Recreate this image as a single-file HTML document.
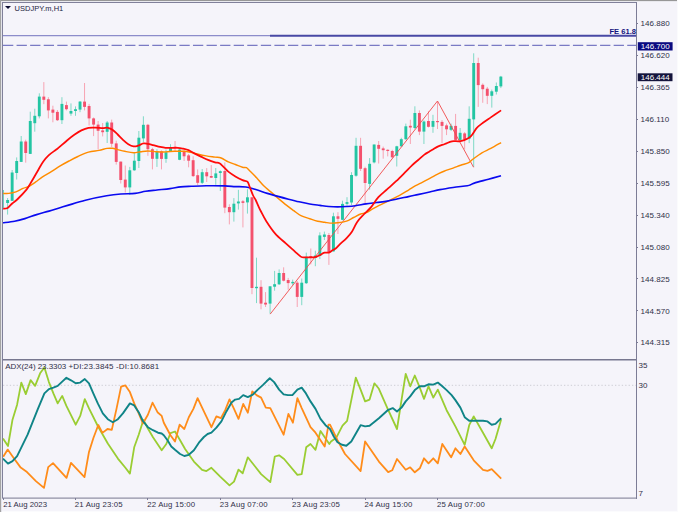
<!DOCTYPE html>
<html><head><meta charset="utf-8"><title>USDJPY.m,H1</title>
<style>
html,body{margin:0;padding:0;}
body{width:678px;height:512px;overflow:hidden;background:#f5f4fa;font-family:"Liberation Sans",sans-serif;position:relative;}
#wrap{position:absolute;left:0;top:0;width:678px;height:512px;background:#f5f4fa;overflow:hidden;}
svg{position:absolute;left:0;top:0;}
.topb{position:absolute;left:0;top:0;width:677px;height:1px;background:#979797;}
.botw{position:absolute;left:0;top:511px;width:678px;height:1px;background:#fbfbfd;}
.rw{position:absolute;left:677px;top:0;width:1px;height:512px;background:#fbfbfd;}
.topw{position:absolute;left:1px;top:1px;width:676px;height:1px;background:#e9e9ee;}
.topd{position:absolute;left:2px;top:2px;width:635px;height:1px;background:#80809a;}
.lb{position:absolute;left:0;top:0;width:1px;height:512px;background:#a3a3a3;}
.lw{position:absolute;left:1px;top:1px;width:1px;height:511px;background:#e4e4ea;}
.ld{position:absolute;left:2px;top:2px;width:1px;height:496px;background:#80809a;}
.axv{position:absolute;left:636px;top:2px;width:1px;height:496.5px;background:#7c7c96;}
.axh{position:absolute;left:2px;top:497px;width:635px;height:1px;background:#7c7c96;}
.sep{position:absolute;left:2px;top:359px;width:635px;height:1.4px;background:#7f7f97;}
.title{position:absolute;left:14.6px;top:3.9px;font-size:7.5px;color:#23233f;white-space:nowrap;letter-spacing:0px;}
.tri{position:absolute;left:5px;top:6px;width:0;height:0;border-left:3px solid transparent;border-right:3px solid transparent;border-top:3.2px solid #0b0b30;}
.pl{position:absolute;left:640.4px;letter-spacing:0.08px;font-size:8px;line-height:10px;height:10px;color:#303048;white-space:nowrap;}
.tk{position:absolute;left:637px;width:1px;height:1px;background:#7c7c96;}
.dt{position:absolute;top:499.8px;font-size:7.8px;line-height:10px;color:#303048;white-space:nowrap;}
.dtk{position:absolute;top:498px;width:1px;height:2px;background:#7c7c96;}
.adx{position:absolute;left:5.2px;top:362.4px;letter-spacing:0.05px;font-size:8px;line-height:10px;color:#303048;white-space:nowrap;}
.fe{position:absolute;left:609.4px;top:26.8px;font-size:7.6px;line-height:10px;font-weight:bold;color:#12127c;white-space:nowrap;}
.box{position:absolute;left:638px;font-size:8px;line-height:8.4px;height:8.4px;width:34.6px;color:#fff;white-space:nowrap;text-indent:2.8px;}
.il{position:absolute;left:638.5px;font-size:8px;line-height:10px;color:#303048;}
</style></head><body><div id="wrap">
<svg width="678" height="512" viewBox="0 0 678 512">
<line x1="3" y1="35.7" x2="270" y2="35.7" stroke="#8c8cca" stroke-width="1.2"/>
<line x1="270" y1="35.7" x2="636" y2="35.7" stroke="#4848a4" stroke-width="2"/>
<line x1="3" y1="45.4" x2="636" y2="45.4" stroke="#7a7ac4" stroke-width="1.1" stroke-dasharray="10.3 3.27"/>
<line x1="3" y1="385.3" x2="636" y2="385.3" stroke="#cdcdd4" stroke-width="1" stroke-dasharray="1.3 2.1"/>
<line x1="3.10" y1="190.0" x2="3.10" y2="208.0" stroke="#7fd9c6" stroke-width="1"/>
<rect x="3" y="190.0" width="1" height="18.0" fill="#6fd6c0"/>
<line x1="7.62" y1="198.0" x2="7.62" y2="214.6" stroke="#7fd9c6" stroke-width="1"/>
<rect x="6.17" y="200.0" width="2.9" height="3.0" fill="#23c5a3"/>
<line x1="12.15" y1="170.0" x2="12.15" y2="201.0" stroke="#7fd9c6" stroke-width="1"/>
<rect x="10.70" y="172.5" width="2.9" height="28.3" fill="#23c5a3"/>
<line x1="16.68" y1="157.4" x2="16.68" y2="179.5" stroke="#7fd9c6" stroke-width="1"/>
<rect x="15.23" y="161.0" width="2.9" height="12.0" fill="#23c5a3"/>
<line x1="21.20" y1="136.0" x2="21.20" y2="162.0" stroke="#7fd9c6" stroke-width="1"/>
<rect x="19.75" y="141.5" width="2.9" height="20.4" fill="#23c5a3"/>
<line x1="25.73" y1="139.7" x2="25.73" y2="162.7" stroke="#f7a3b2" stroke-width="1"/>
<rect x="24.28" y="141.5" width="2.9" height="11.5" fill="#f4516d"/>
<line x1="30.25" y1="111.7" x2="30.25" y2="154.0" stroke="#7fd9c6" stroke-width="1"/>
<rect x="28.80" y="121.0" width="2.9" height="32.9" fill="#23c5a3"/>
<line x1="34.78" y1="108.7" x2="34.78" y2="131.7" stroke="#7fd9c6" stroke-width="1"/>
<rect x="33.33" y="115.8" width="2.9" height="7.4" fill="#23c5a3"/>
<line x1="39.30" y1="93.3" x2="39.30" y2="118.4" stroke="#7fd9c6" stroke-width="1"/>
<rect x="37.85" y="96.6" width="2.9" height="19.7" fill="#23c5a3"/>
<line x1="43.83" y1="82.1" x2="43.83" y2="104.2" stroke="#f7a3b2" stroke-width="1"/>
<rect x="42.38" y="96.6" width="2.9" height="3.2" fill="#f4516d"/>
<line x1="48.35" y1="97.2" x2="48.35" y2="118.4" stroke="#f7a3b2" stroke-width="1"/>
<rect x="46.90" y="99.3" width="2.9" height="11.1" fill="#f4516d"/>
<line x1="52.88" y1="105.7" x2="52.88" y2="122.3" stroke="#f7a3b2" stroke-width="1"/>
<rect x="51.43" y="109.6" width="2.9" height="3.1" fill="#f4516d"/>
<line x1="57.40" y1="110.0" x2="57.40" y2="121.0" stroke="#f7a3b2" stroke-width="1"/>
<rect x="55.95" y="111.9" width="2.9" height="8.3" fill="#f4516d"/>
<line x1="61.93" y1="97.2" x2="61.93" y2="124.0" stroke="#7fd9c6" stroke-width="1"/>
<rect x="60.48" y="103.9" width="2.9" height="16.3" fill="#23c5a3"/>
<line x1="66.45" y1="101.6" x2="66.45" y2="110.4" stroke="#f7a3b2" stroke-width="1"/>
<rect x="65.00" y="105.1" width="2.9" height="4.1" fill="#f4516d"/>
<line x1="70.97" y1="103.4" x2="70.97" y2="115.8" stroke="#7fd9c6" stroke-width="1"/>
<rect x="69.52" y="111.0" width="2.9" height="2.6" fill="#23c5a3"/>
<line x1="75.50" y1="106.4" x2="75.50" y2="115.8" stroke="#7fd9c6" stroke-width="1"/>
<rect x="74.05" y="109.2" width="2.9" height="1.8" fill="#23c5a3"/>
<line x1="80.03" y1="101.0" x2="80.03" y2="112.2" stroke="#7fd9c6" stroke-width="1"/>
<rect x="78.58" y="101.6" width="2.9" height="8.0" fill="#23c5a3"/>
<line x1="84.55" y1="83.0" x2="84.55" y2="110.4" stroke="#f7a3b2" stroke-width="1"/>
<rect x="83.10" y="101.6" width="2.9" height="5.3" fill="#f4516d"/>
<line x1="89.08" y1="103.9" x2="89.08" y2="125.5" stroke="#f7a3b2" stroke-width="1"/>
<rect x="87.62" y="106.0" width="2.9" height="12.4" fill="#f4516d"/>
<line x1="93.60" y1="117.5" x2="93.60" y2="136.1" stroke="#f7a3b2" stroke-width="1"/>
<rect x="92.15" y="118.4" width="2.9" height="6.2" fill="#f4516d"/>
<line x1="98.12" y1="121.0" x2="98.12" y2="149.5" stroke="#f7a3b2" stroke-width="1"/>
<rect x="96.67" y="124.6" width="2.9" height="6.2" fill="#f4516d"/>
<line x1="102.65" y1="123.0" x2="102.65" y2="136.4" stroke="#f7a3b2" stroke-width="1"/>
<rect x="101.20" y="130.4" width="2.9" height="1.8" fill="#f4516d"/>
<line x1="107.17" y1="121.0" x2="107.17" y2="143.0" stroke="#7fd9c6" stroke-width="1"/>
<rect x="105.72" y="122.5" width="2.9" height="9.3" fill="#23c5a3"/>
<line x1="111.70" y1="119.6" x2="111.70" y2="147.0" stroke="#f7a3b2" stroke-width="1"/>
<rect x="110.25" y="122.5" width="2.9" height="21.2" fill="#f4516d"/>
<line x1="116.23" y1="140.7" x2="116.23" y2="164.6" stroke="#f7a3b2" stroke-width="1"/>
<rect x="114.78" y="143.4" width="2.9" height="18.5" fill="#f4516d"/>
<line x1="120.75" y1="161.6" x2="120.75" y2="183.5" stroke="#f7a3b2" stroke-width="1"/>
<rect x="119.30" y="161.6" width="2.9" height="18.4" fill="#f4516d"/>
<line x1="125.28" y1="165.5" x2="125.28" y2="192.5" stroke="#f7a3b2" stroke-width="1"/>
<rect x="123.83" y="179.6" width="2.9" height="7.8" fill="#f4516d"/>
<line x1="129.80" y1="166.9" x2="129.80" y2="195.0" stroke="#7fd9c6" stroke-width="1"/>
<rect x="128.35" y="170.3" width="2.9" height="17.1" fill="#23c5a3"/>
<line x1="134.33" y1="153.0" x2="134.33" y2="170.8" stroke="#7fd9c6" stroke-width="1"/>
<rect x="132.88" y="160.7" width="2.9" height="9.6" fill="#23c5a3"/>
<line x1="138.85" y1="131.0" x2="138.85" y2="168.0" stroke="#7fd9c6" stroke-width="1"/>
<rect x="137.40" y="137.7" width="2.9" height="23.3" fill="#23c5a3"/>
<line x1="143.38" y1="116.3" x2="143.38" y2="142.0" stroke="#7fd9c6" stroke-width="1"/>
<rect x="141.93" y="124.8" width="2.9" height="13.6" fill="#23c5a3"/>
<line x1="147.90" y1="123.9" x2="147.90" y2="155.8" stroke="#f7a3b2" stroke-width="1"/>
<rect x="146.45" y="124.8" width="2.9" height="24.4" fill="#f4516d"/>
<line x1="152.43" y1="147.8" x2="152.43" y2="169.4" stroke="#f7a3b2" stroke-width="1"/>
<rect x="150.98" y="149.2" width="2.9" height="9.6" fill="#f4516d"/>
<line x1="156.95" y1="149.2" x2="156.95" y2="166.9" stroke="#7fd9c6" stroke-width="1"/>
<rect x="155.50" y="151.3" width="2.9" height="7.5" fill="#23c5a3"/>
<line x1="161.47" y1="150.4" x2="161.47" y2="169.4" stroke="#f7a3b2" stroke-width="1"/>
<rect x="160.03" y="151.3" width="2.9" height="7.6" fill="#f4516d"/>
<line x1="166.00" y1="149.6" x2="166.00" y2="162.8" stroke="#7fd9c6" stroke-width="1"/>
<rect x="164.55" y="152.2" width="2.9" height="6.7" fill="#23c5a3"/>
<line x1="170.53" y1="144.2" x2="170.53" y2="151.3" stroke="#7fd9c6" stroke-width="1"/>
<rect x="169.08" y="147.4" width="2.9" height="3.9" fill="#23c5a3"/>
<line x1="175.05" y1="141.0" x2="175.05" y2="151.3" stroke="#f7a3b2" stroke-width="1"/>
<rect x="173.60" y="146.9" width="2.9" height="1.8" fill="#f4516d"/>
<line x1="179.58" y1="148.7" x2="179.58" y2="160.2" stroke="#7fd9c6" stroke-width="1"/>
<rect x="178.13" y="149.6" width="2.9" height="10.2" fill="#23c5a3"/>
<line x1="184.10" y1="150.0" x2="184.10" y2="161.0" stroke="#f7a3b2" stroke-width="1"/>
<rect x="182.65" y="151.3" width="2.9" height="5.0" fill="#f4516d"/>
<line x1="188.62" y1="154.0" x2="188.62" y2="167.3" stroke="#f7a3b2" stroke-width="1"/>
<rect x="187.18" y="155.4" width="2.9" height="5.3" fill="#f4516d"/>
<line x1="193.15" y1="156.3" x2="193.15" y2="177.0" stroke="#f7a3b2" stroke-width="1"/>
<rect x="191.70" y="160.2" width="2.9" height="15.9" fill="#f4516d"/>
<line x1="197.68" y1="169.4" x2="197.68" y2="185.0" stroke="#f7a3b2" stroke-width="1"/>
<rect x="196.23" y="175.2" width="2.9" height="7.6" fill="#f4516d"/>
<line x1="202.20" y1="169.0" x2="202.20" y2="184.0" stroke="#7fd9c6" stroke-width="1"/>
<rect x="200.75" y="172.2" width="2.9" height="10.6" fill="#23c5a3"/>
<line x1="206.73" y1="168.1" x2="206.73" y2="182.0" stroke="#f7a3b2" stroke-width="1"/>
<rect x="205.28" y="172.2" width="2.9" height="4.1" fill="#f4516d"/>
<line x1="211.25" y1="165.1" x2="211.25" y2="177.9" stroke="#f7a3b2" stroke-width="1"/>
<rect x="209.80" y="176.0" width="2.9" height="1.7" fill="#f4516d"/>
<line x1="215.78" y1="168.0" x2="215.78" y2="184.8" stroke="#7fd9c6" stroke-width="1"/>
<rect x="214.33" y="173.4" width="2.9" height="4.6" fill="#23c5a3"/>
<line x1="220.30" y1="170.4" x2="220.30" y2="191.0" stroke="#7fd9c6" stroke-width="1"/>
<rect x="218.85" y="171.2" width="2.9" height="1.8" fill="#23c5a3"/>
<line x1="224.83" y1="162.4" x2="224.83" y2="213.2" stroke="#f7a3b2" stroke-width="1"/>
<rect x="223.38" y="171.0" width="2.9" height="36.6" fill="#f4516d"/>
<line x1="229.35" y1="204.3" x2="229.35" y2="224.4" stroke="#f7a3b2" stroke-width="1"/>
<rect x="227.90" y="207.0" width="2.9" height="5.2" fill="#f4516d"/>
<line x1="233.88" y1="198.1" x2="233.88" y2="221.6" stroke="#7fd9c6" stroke-width="1"/>
<rect x="232.43" y="203.7" width="2.9" height="8.5" fill="#23c5a3"/>
<line x1="238.40" y1="189.8" x2="238.40" y2="209.6" stroke="#7fd9c6" stroke-width="1"/>
<rect x="236.95" y="201.5" width="2.9" height="1.9" fill="#23c5a3"/>
<line x1="242.93" y1="200.0" x2="242.93" y2="227.4" stroke="#f7a3b2" stroke-width="1"/>
<rect x="241.48" y="201.3" width="2.9" height="1.6" fill="#f4516d"/>
<line x1="247.45" y1="189.3" x2="247.45" y2="213.6" stroke="#7fd9c6" stroke-width="1"/>
<rect x="246.00" y="197.3" width="2.9" height="5.1" fill="#23c5a3"/>
<line x1="251.98" y1="197.3" x2="251.98" y2="294.2" stroke="#f7a3b2" stroke-width="1"/>
<rect x="250.53" y="197.3" width="2.9" height="90.7" fill="#f4516d"/>
<line x1="256.50" y1="257.7" x2="256.50" y2="303.1" stroke="#7fd9c6" stroke-width="1"/>
<rect x="255.05" y="286.8" width="2.9" height="1.4" fill="#23c5a3"/>
<line x1="261.03" y1="280.2" x2="261.03" y2="309.3" stroke="#f7a3b2" stroke-width="1"/>
<rect x="259.58" y="286.8" width="2.9" height="16.8" fill="#f4516d"/>
<line x1="265.55" y1="292.1" x2="265.55" y2="307.0" stroke="#f7a3b2" stroke-width="1"/>
<rect x="264.10" y="302.7" width="2.9" height="1.8" fill="#f4516d"/>
<line x1="270.08" y1="286.3" x2="270.08" y2="313.7" stroke="#7fd9c6" stroke-width="1"/>
<rect x="268.63" y="286.3" width="2.9" height="17.3" fill="#23c5a3"/>
<line x1="274.60" y1="270.9" x2="274.60" y2="290.7" stroke="#7fd9c6" stroke-width="1"/>
<rect x="273.15" y="284.2" width="2.9" height="2.5" fill="#23c5a3"/>
<line x1="279.13" y1="269.4" x2="279.13" y2="285.0" stroke="#7fd9c6" stroke-width="1"/>
<rect x="277.68" y="273.0" width="2.9" height="11.3" fill="#23c5a3"/>
<line x1="283.65" y1="267.3" x2="283.65" y2="281.4" stroke="#f7a3b2" stroke-width="1"/>
<rect x="282.20" y="273.0" width="2.9" height="7.7" fill="#f4516d"/>
<line x1="288.18" y1="277.9" x2="288.18" y2="289.8" stroke="#f7a3b2" stroke-width="1"/>
<rect x="286.73" y="280.0" width="2.9" height="3.1" fill="#f4516d"/>
<line x1="292.70" y1="279.6" x2="292.70" y2="285.0" stroke="#7fd9c6" stroke-width="1"/>
<rect x="291.25" y="281.9" width="2.9" height="1.4" fill="#23c5a3"/>
<line x1="297.23" y1="281.0" x2="297.23" y2="307.0" stroke="#f7a3b2" stroke-width="1"/>
<rect x="295.78" y="282.7" width="2.9" height="14.2" fill="#f4516d"/>
<line x1="301.75" y1="278.5" x2="301.75" y2="305.2" stroke="#7fd9c6" stroke-width="1"/>
<rect x="300.30" y="282.7" width="2.9" height="14.2" fill="#23c5a3"/>
<line x1="306.28" y1="252.6" x2="306.28" y2="284.0" stroke="#7fd9c6" stroke-width="1"/>
<rect x="304.83" y="256.8" width="2.9" height="26.4" fill="#23c5a3"/>
<line x1="310.80" y1="248.5" x2="310.80" y2="264.4" stroke="#f7a3b2" stroke-width="1"/>
<rect x="309.35" y="256.0" width="2.9" height="1.5" fill="#f4516d"/>
<line x1="315.33" y1="250.7" x2="315.33" y2="266.2" stroke="#7fd9c6" stroke-width="1"/>
<rect x="313.88" y="255.5" width="2.9" height="2.5" fill="#23c5a3"/>
<line x1="319.85" y1="232.3" x2="319.85" y2="259.1" stroke="#7fd9c6" stroke-width="1"/>
<rect x="318.40" y="235.4" width="2.9" height="20.6" fill="#23c5a3"/>
<line x1="324.38" y1="231.6" x2="324.38" y2="240.0" stroke="#7fd9c6" stroke-width="1"/>
<rect x="322.93" y="234.5" width="2.9" height="2.4" fill="#23c5a3"/>
<line x1="328.90" y1="233.0" x2="328.90" y2="264.9" stroke="#f7a3b2" stroke-width="1"/>
<rect x="327.45" y="235.0" width="2.9" height="17.0" fill="#f4516d"/>
<line x1="333.43" y1="212.7" x2="333.43" y2="251.5" stroke="#7fd9c6" stroke-width="1"/>
<rect x="331.98" y="216.3" width="2.9" height="35.1" fill="#23c5a3"/>
<line x1="337.95" y1="212.2" x2="337.95" y2="234.0" stroke="#f7a3b2" stroke-width="1"/>
<rect x="336.50" y="216.3" width="2.9" height="2.5" fill="#f4516d"/>
<line x1="342.48" y1="200.7" x2="342.48" y2="220.2" stroke="#7fd9c6" stroke-width="1"/>
<rect x="341.03" y="203.9" width="2.9" height="15.9" fill="#23c5a3"/>
<line x1="347.00" y1="197.2" x2="347.00" y2="205.7" stroke="#7fd9c6" stroke-width="1"/>
<rect x="345.55" y="202.1" width="2.9" height="1.8" fill="#23c5a3"/>
<line x1="351.53" y1="172.2" x2="351.53" y2="205.1" stroke="#7fd9c6" stroke-width="1"/>
<rect x="350.08" y="175.0" width="2.9" height="27.5" fill="#23c5a3"/>
<line x1="356.05" y1="137.8" x2="356.05" y2="176.7" stroke="#7fd9c6" stroke-width="1"/>
<rect x="354.60" y="145.8" width="2.9" height="29.9" fill="#23c5a3"/>
<line x1="360.58" y1="137.8" x2="360.58" y2="171.0" stroke="#f7a3b2" stroke-width="1"/>
<rect x="359.13" y="145.8" width="2.9" height="23.0" fill="#f4516d"/>
<line x1="365.10" y1="166.7" x2="365.10" y2="203.4" stroke="#f7a3b2" stroke-width="1"/>
<rect x="363.65" y="168.2" width="2.9" height="14.8" fill="#f4516d"/>
<line x1="369.63" y1="158.1" x2="369.63" y2="189.7" stroke="#7fd9c6" stroke-width="1"/>
<rect x="368.18" y="163.8" width="2.9" height="20.1" fill="#23c5a3"/>
<line x1="374.15" y1="144.5" x2="374.15" y2="163.4" stroke="#7fd9c6" stroke-width="1"/>
<rect x="372.70" y="144.5" width="2.9" height="17.9" fill="#23c5a3"/>
<line x1="378.68" y1="141.0" x2="378.68" y2="163.5" stroke="#f7a3b2" stroke-width="1"/>
<rect x="377.23" y="144.9" width="2.9" height="3.9" fill="#f4516d"/>
<line x1="383.20" y1="146.6" x2="383.20" y2="158.7" stroke="#f7a3b2" stroke-width="1"/>
<rect x="381.75" y="148.4" width="2.9" height="1.8" fill="#f4516d"/>
<line x1="387.73" y1="149.3" x2="387.73" y2="156.4" stroke="#f7a3b2" stroke-width="1"/>
<rect x="386.28" y="149.8" width="2.9" height="1.2" fill="#f4516d"/>
<line x1="392.25" y1="149.8" x2="392.25" y2="158.1" stroke="#f7a3b2" stroke-width="1"/>
<rect x="390.80" y="151.0" width="2.9" height="6.3" fill="#f4516d"/>
<line x1="396.78" y1="145.8" x2="396.78" y2="166.5" stroke="#7fd9c6" stroke-width="1"/>
<rect x="395.33" y="146.3" width="2.9" height="9.5" fill="#23c5a3"/>
<line x1="401.30" y1="137.8" x2="401.30" y2="146.6" stroke="#7fd9c6" stroke-width="1"/>
<rect x="399.85" y="139.2" width="2.9" height="7.1" fill="#23c5a3"/>
<line x1="405.83" y1="123.6" x2="405.83" y2="139.9" stroke="#7fd9c6" stroke-width="1"/>
<rect x="404.38" y="126.3" width="2.9" height="12.9" fill="#23c5a3"/>
<line x1="410.35" y1="119.7" x2="410.35" y2="144.0" stroke="#f7a3b2" stroke-width="1"/>
<rect x="408.90" y="125.8" width="2.9" height="1.7" fill="#f4516d"/>
<line x1="414.88" y1="106.3" x2="414.88" y2="129.3" stroke="#7fd9c6" stroke-width="1"/>
<rect x="413.43" y="113.0" width="2.9" height="15.0" fill="#23c5a3"/>
<line x1="419.40" y1="110.4" x2="419.40" y2="135.1" stroke="#f7a3b2" stroke-width="1"/>
<rect x="417.95" y="113.0" width="2.9" height="18.6" fill="#f4516d"/>
<line x1="423.93" y1="120.4" x2="423.93" y2="144.0" stroke="#7fd9c6" stroke-width="1"/>
<rect x="422.48" y="121.5" width="2.9" height="10.1" fill="#23c5a3"/>
<line x1="428.45" y1="111.2" x2="428.45" y2="127.5" stroke="#f7a3b2" stroke-width="1"/>
<rect x="427.00" y="121.0" width="2.9" height="5.8" fill="#f4516d"/>
<line x1="432.98" y1="114.8" x2="432.98" y2="132.8" stroke="#7fd9c6" stroke-width="1"/>
<rect x="431.53" y="121.0" width="2.9" height="5.8" fill="#23c5a3"/>
<line x1="437.50" y1="101.5" x2="437.50" y2="129.0" stroke="#f7a3b2" stroke-width="1"/>
<rect x="436.05" y="121.0" width="2.9" height="1.2" fill="#f4516d"/>
<line x1="442.03" y1="120.1" x2="442.03" y2="143.1" stroke="#f7a3b2" stroke-width="1"/>
<rect x="440.58" y="121.9" width="2.9" height="4.0" fill="#f4516d"/>
<line x1="446.55" y1="123.6" x2="446.55" y2="135.1" stroke="#f7a3b2" stroke-width="1"/>
<rect x="445.10" y="125.4" width="2.9" height="3.9" fill="#f4516d"/>
<line x1="451.08" y1="123.6" x2="451.08" y2="131.0" stroke="#7fd9c6" stroke-width="1"/>
<rect x="449.63" y="125.9" width="2.9" height="3.9" fill="#23c5a3"/>
<line x1="455.60" y1="113.9" x2="455.60" y2="140.4" stroke="#f7a3b2" stroke-width="1"/>
<rect x="454.15" y="125.9" width="2.9" height="14.0" fill="#f4516d"/>
<line x1="460.13" y1="128.0" x2="460.13" y2="140.4" stroke="#7fd9c6" stroke-width="1"/>
<rect x="458.68" y="132.8" width="2.9" height="7.1" fill="#23c5a3"/>
<line x1="464.65" y1="132.1" x2="464.65" y2="149.3" stroke="#f7a3b2" stroke-width="1"/>
<rect x="463.20" y="133.4" width="2.9" height="6.2" fill="#f4516d"/>
<line x1="469.18" y1="106.3" x2="469.18" y2="143.1" stroke="#7fd9c6" stroke-width="1"/>
<rect x="467.73" y="118.8" width="2.9" height="19.9" fill="#23c5a3"/>
<line x1="473.70" y1="53.3" x2="473.70" y2="167.0" stroke="#7fd9c6" stroke-width="1"/>
<rect x="472.25" y="63.0" width="2.9" height="56.4" fill="#23c5a3"/>
<line x1="478.23" y1="57.7" x2="478.23" y2="106.9" stroke="#f7a3b2" stroke-width="1"/>
<rect x="476.78" y="63.0" width="2.9" height="22.1" fill="#f4516d"/>
<line x1="482.75" y1="83.4" x2="482.75" y2="102.8" stroke="#f7a3b2" stroke-width="1"/>
<rect x="481.30" y="84.8" width="2.9" height="4.4" fill="#f4516d"/>
<line x1="487.28" y1="86.9" x2="487.28" y2="104.1" stroke="#f7a3b2" stroke-width="1"/>
<rect x="485.83" y="88.7" width="2.9" height="7.1" fill="#f4516d"/>
<line x1="491.80" y1="89.6" x2="491.80" y2="107.6" stroke="#7fd9c6" stroke-width="1"/>
<rect x="490.35" y="91.3" width="2.9" height="4.5" fill="#23c5a3"/>
<line x1="496.33" y1="82.5" x2="496.33" y2="94.5" stroke="#7fd9c6" stroke-width="1"/>
<rect x="494.88" y="86.0" width="2.9" height="5.7" fill="#23c5a3"/>
<line x1="500.85" y1="75.9" x2="500.85" y2="88.1" stroke="#7fd9c6" stroke-width="1"/>
<rect x="499.40" y="76.6" width="2.9" height="9.8" fill="#23c5a3"/>
<polyline fill="none" stroke="#f04a4a" stroke-width="0.9" points="270.2,314.1 437.5,101 473.6,167.3"/>
<path fill="none" stroke="#ff8c00" stroke-width="1.45" stroke-linejoin="round" d="M3.20,193.40 C4.13,193.40 6.68,193.65 8.80,193.40 C10.92,193.15 13.53,192.73 15.90,191.90 C18.27,191.07 20.93,189.27 23.00,188.40 C25.07,187.53 26.23,187.73 28.30,186.70 C30.37,185.67 33.03,183.83 35.40,182.20 C37.77,180.57 39.85,178.67 42.50,176.90 C45.15,175.13 48.35,173.43 51.30,171.60 C54.25,169.77 57.25,167.67 60.20,165.90 C63.15,164.13 66.05,162.57 69.00,161.00 C71.95,159.43 74.65,157.98 77.90,156.50 C81.15,155.02 84.97,153.12 88.50,152.10 C92.03,151.08 96.00,151.02 99.10,150.40 C102.20,149.78 104.88,148.75 107.10,148.40 C109.32,148.05 110.63,148.10 112.40,148.30 C114.17,148.50 115.63,149.10 117.70,149.60 C119.77,150.10 122.15,150.78 124.80,151.30 C127.45,151.82 130.95,152.63 133.60,152.70 C136.25,152.77 138.33,151.98 140.70,151.70 C143.07,151.42 145.15,151.00 147.80,151.00 C150.45,151.00 153.65,151.55 156.60,151.70 C159.55,151.85 162.55,151.97 165.50,151.90 C168.45,151.83 171.35,151.40 174.30,151.30 C177.25,151.20 180.53,151.15 183.20,151.30 C185.87,151.45 187.95,151.75 190.30,152.20 C192.65,152.65 194.65,153.38 197.30,154.00 C199.95,154.62 203.25,155.38 206.20,155.90 C209.15,156.42 212.50,156.75 215.00,157.10 C217.50,157.45 218.98,157.20 221.20,158.00 C223.42,158.80 225.93,160.82 228.30,161.90 C230.67,162.98 233.03,163.62 235.40,164.50 C237.77,165.38 240.67,166.67 242.50,167.20 C244.33,167.73 245.22,167.12 246.40,167.70 C247.58,168.28 247.90,169.02 249.60,170.70 C251.30,172.38 254.25,175.28 256.60,177.80 C258.95,180.32 261.33,183.45 263.70,185.80 C266.07,188.15 268.43,189.85 270.80,191.90 C273.17,193.95 275.25,195.85 277.90,198.10 C280.55,200.35 284.05,203.30 286.70,205.40 C289.35,207.50 291.43,208.98 293.80,210.70 C296.17,212.42 298.25,214.37 300.90,215.70 C303.55,217.03 306.90,217.78 309.70,218.70 C312.50,219.62 315.20,220.62 317.70,221.20 C320.20,221.78 322.65,221.88 324.70,222.20 C326.75,222.52 327.83,223.00 330.00,223.10 C332.17,223.20 334.95,223.13 337.70,222.80 C340.45,222.47 343.85,221.98 346.50,221.10 C349.15,220.22 351.23,218.68 353.60,217.50 C355.97,216.32 358.63,214.80 360.70,214.00 C362.77,213.20 363.93,213.58 366.00,212.70 C368.07,211.82 370.45,210.12 373.10,208.70 C375.75,207.28 378.95,205.68 381.90,204.20 C384.85,202.72 387.85,201.27 390.80,199.80 C393.75,198.33 396.65,197.02 399.60,195.40 C402.55,193.78 405.83,191.72 408.50,190.10 C411.17,188.48 413.23,187.03 415.60,185.70 C417.97,184.37 420.05,183.48 422.70,182.10 C425.35,180.72 429.00,178.73 431.50,177.40 C434.00,176.07 435.62,175.13 437.70,174.10 C439.78,173.07 441.43,172.20 444.00,171.20 C446.57,170.20 450.32,169.10 453.10,168.10 C455.88,167.10 458.10,166.12 460.70,165.20 C463.30,164.28 466.63,163.63 468.70,162.60 C470.77,161.57 470.90,160.63 473.10,159.00 C475.30,157.37 478.95,154.57 481.90,152.80 C484.85,151.03 487.60,150.10 490.80,148.40 C494.00,146.70 499.38,143.57 501.10,142.60"/>
<path fill="none" stroke="#0a0af0" stroke-width="1.65" stroke-linejoin="round" d="M2.90,222.80 C4.85,222.53 10.93,221.90 14.60,221.20 C18.27,220.50 21.23,219.70 24.90,218.60 C28.57,217.50 32.58,215.85 36.60,214.60 C40.62,213.35 45.10,212.25 49.00,211.10 C52.90,209.95 56.88,208.65 60.00,207.70 C63.12,206.75 63.47,206.65 67.70,205.40 C71.93,204.15 78.92,201.80 85.40,200.20 C91.88,198.60 100.70,196.83 106.60,195.80 C112.50,194.77 116.07,194.40 120.80,194.00 C125.53,193.60 130.87,193.85 135.00,193.40 C139.13,192.95 141.93,191.87 145.60,191.30 C149.27,190.73 152.93,190.45 157.00,190.00 C161.07,189.55 166.07,189.12 170.00,188.60 C173.93,188.08 177.07,187.28 180.60,186.90 C184.13,186.52 186.93,186.48 191.20,186.30 C195.47,186.12 200.60,185.87 206.20,185.80 C211.80,185.73 219.93,185.77 224.80,185.90 C229.67,186.03 231.87,186.42 235.40,186.60 C238.93,186.78 242.47,186.47 246.00,187.00 C249.53,187.53 253.05,188.73 256.60,189.80 C260.15,190.87 263.75,192.30 267.30,193.40 C270.85,194.50 274.37,195.43 277.90,196.40 C281.43,197.37 284.97,198.30 288.50,199.20 C292.03,200.10 295.57,201.00 299.10,201.80 C302.63,202.60 306.22,203.40 309.70,204.00 C313.18,204.60 316.82,204.98 320.00,205.40 C323.18,205.82 325.85,206.25 328.80,206.50 C331.75,206.75 334.75,206.90 337.70,206.90 C340.65,206.90 343.55,206.70 346.50,206.50 C349.45,206.30 352.15,206.13 355.40,205.70 C358.65,205.27 362.47,204.43 366.00,203.90 C369.53,203.37 373.05,202.97 376.60,202.50 C380.15,202.03 383.75,201.73 387.30,201.10 C390.85,200.47 394.37,199.45 397.90,198.70 C401.43,197.95 405.20,197.28 408.50,196.60 C411.80,195.92 414.17,195.37 417.70,194.60 C421.23,193.83 425.98,192.83 429.70,192.00 C433.42,191.17 436.10,190.35 440.00,189.60 C443.90,188.85 448.55,188.15 453.10,187.50 C457.65,186.85 464.40,186.15 467.30,185.70 C470.20,185.25 469.33,185.23 470.50,184.80 C471.67,184.37 471.30,184.03 474.30,183.10 C477.30,182.17 484.05,180.43 488.50,179.20 C492.95,177.97 498.92,176.28 501.00,175.70"/>
<path fill="none" stroke="#ff0a0a" stroke-width="1.75" stroke-linejoin="round" d="M3.20,208.80 C3.93,208.65 6.10,208.78 7.60,207.90 C9.10,207.02 10.52,204.98 12.20,203.50 C13.88,202.02 15.32,201.32 17.70,199.00 C20.08,196.68 24.45,192.08 26.50,189.60 C28.55,187.12 28.83,185.98 30.00,184.10 C31.17,182.22 32.03,180.82 33.50,178.30 C34.97,175.78 37.17,171.80 38.80,169.00 C40.43,166.20 41.67,163.78 43.30,161.50 C44.93,159.22 46.53,157.22 48.60,155.30 C50.67,153.38 54.07,151.23 55.70,150.00 C57.33,148.77 56.47,149.53 58.40,147.90 C60.33,146.27 64.65,142.38 67.30,140.20 C69.95,138.02 71.95,136.43 74.30,134.80 C76.65,133.17 79.03,131.57 81.40,130.40 C83.77,129.23 86.13,128.27 88.50,127.80 C90.87,127.33 93.23,127.55 95.60,127.60 C97.97,127.65 100.63,128.07 102.70,128.10 C104.77,128.13 106.32,127.48 108.00,127.80 C109.68,128.12 111.18,128.88 112.80,130.00 C114.42,131.12 116.00,132.87 117.70,134.50 C119.40,136.13 121.23,138.18 123.00,139.80 C124.77,141.42 126.53,143.10 128.30,144.20 C130.07,145.30 131.97,146.15 133.60,146.40 C135.23,146.65 136.47,146.20 138.10,145.70 C139.73,145.20 141.78,143.70 143.40,143.40 C145.02,143.10 146.18,143.62 147.80,143.90 C149.42,144.18 151.03,144.60 153.10,145.10 C155.17,145.60 158.13,146.45 160.20,146.90 C162.27,147.35 163.73,147.65 165.50,147.80 C167.27,147.95 168.73,147.80 170.80,147.80 C172.87,147.80 175.83,147.65 177.90,147.80 C179.97,147.95 181.43,148.32 183.20,148.70 C184.97,149.08 186.73,149.37 188.50,150.10 C190.27,150.83 191.73,152.02 193.80,153.10 C195.87,154.18 198.53,155.47 200.90,156.60 C203.27,157.73 205.65,158.95 208.00,159.90 C210.35,160.85 213.08,161.73 215.00,162.30 C216.92,162.87 218.17,162.63 219.50,163.30 C220.83,163.97 221.53,164.92 223.00,166.30 C224.47,167.68 226.23,169.92 228.30,171.60 C230.37,173.28 233.03,174.98 235.40,176.40 C237.77,177.82 240.50,179.22 242.50,180.10 C244.50,180.98 246.22,180.62 247.40,181.70 C248.58,182.78 248.65,184.30 249.60,186.60 C250.55,188.90 252.08,193.27 253.10,195.50 C254.12,197.73 254.82,198.23 255.70,200.00 C256.58,201.77 257.52,204.18 258.40,206.10 C259.28,208.02 259.68,208.98 261.00,211.50 C262.32,214.02 263.93,217.52 266.30,221.20 C268.67,224.88 271.95,229.90 275.20,233.60 C278.45,237.30 282.55,240.45 285.80,243.40 C289.05,246.35 292.45,249.30 294.70,251.30 C296.95,253.30 298.17,254.45 299.30,255.40 C300.43,256.35 300.72,256.68 301.50,257.00 C302.28,257.32 302.48,257.25 304.00,257.30 C305.52,257.35 308.80,257.32 310.60,257.30 C312.40,257.28 313.40,257.50 314.80,257.20 C316.20,256.90 317.38,256.25 319.00,255.50 C320.62,254.75 322.85,253.18 324.50,252.70 C326.15,252.22 327.58,253.00 328.90,252.60 C330.22,252.20 331.22,251.02 332.40,250.30 C333.58,249.58 334.82,249.25 336.00,248.30 C337.18,247.35 337.73,246.30 339.50,244.60 C341.27,242.90 344.53,240.25 346.60,238.10 C348.67,235.95 350.13,234.40 351.90,231.70 C353.67,229.00 355.15,224.85 357.20,221.90 C359.25,218.95 361.85,216.50 364.20,214.00 C366.55,211.50 368.93,209.70 371.30,206.90 C373.67,204.10 375.73,200.15 378.40,197.20 C381.07,194.25 384.35,191.87 387.30,189.20 C390.25,186.53 393.15,184.00 396.10,181.20 C399.05,178.40 402.35,175.05 405.00,172.40 C407.65,169.75 409.80,167.37 412.00,165.30 C414.20,163.23 416.13,161.78 418.20,160.00 C420.27,158.22 422.63,155.95 424.40,154.60 C426.17,153.25 427.32,152.78 428.80,151.90 C430.28,151.02 431.82,150.18 433.30,149.30 C434.78,148.42 435.78,147.48 437.70,146.60 C439.62,145.72 442.43,144.88 444.80,144.00 C447.17,143.12 449.55,141.75 451.90,141.30 C454.25,140.85 456.85,141.50 458.90,141.30 C460.95,141.10 462.42,140.75 464.20,140.10 C465.98,139.45 468.12,138.52 469.60,137.40 C471.08,136.28 471.93,134.95 473.10,133.40 C474.27,131.85 475.13,129.73 476.60,128.10 C478.07,126.47 479.53,125.38 481.90,123.60 C484.27,121.82 487.60,119.60 490.80,117.40 C494.00,115.20 499.38,111.57 501.10,110.40"/>
<line x1="2" y1="359.8" x2="637" y2="359.8" stroke="#77778f" stroke-width="1.6"/>
<line x1="2" y1="498.1" x2="637" y2="498.1" stroke="#77778f" stroke-width="1"/>
<rect x="637.8" y="42.2" width="34.8" height="8.3" fill="#0a0a80"/>
<rect x="637.7" y="73.3" width="34.8" height="7.9" fill="#14143c"/>
<polyline fill="none" stroke="#9acd32" stroke-width="1.8" stroke-linejoin="round" points="3.0,438.5 8.0,446.0 12.5,419.7 17.1,404.7 21.3,382.6 25.8,394.1 30.6,380.1 35.1,385.9 40.1,373.3 44.4,367.5 48.9,382.1 53.4,393.4 57.7,403.4 62.2,395.9 66.4,405.9 71.0,415.2 75.7,424.7 80.2,415.9 84.8,399.1 89.0,408.4 97.8,426.0 107.8,443.5 117.9,458.6 125.4,467.8 129.9,473.6 134.2,447.3 138.7,434.7 143.4,420.0 147.9,428.5 153.0,437.3 161.7,450.3 166.3,444.0 170.5,433.2 175.0,431.5 180.1,440.2 185.1,449.0 193.9,461.6 202.1,469.8 206.4,471.1 211.4,467.8 220.2,476.6 229.5,485.4 234.0,481.6 238.5,469.6 242.7,473.3 247.8,457.3 261.1,474.1 270.3,482.1 274.8,456.5 279.1,455.3 284.1,459.0 297.4,474.8 301.7,474.1 306.2,447.3 310.5,444.0 315.5,449.8 320.5,431.0 329.3,444.0 331.0,441.5 336.3,437.7 342.5,425.7 347.1,420.9 351.3,400.1 355.8,377.6 360.6,389.6 365.1,401.4 369.6,399.6 374.4,383.3 378.9,388.8 387.7,408.9 397.0,429.0 401.5,400.1 405.7,373.8 410.2,386.3 414.8,375.5 419.8,387.6 424.0,398.9 428.5,386.3 433.3,397.6 437.8,389.6 446.6,410.2 455.4,426.4 464.7,444.8 469.2,425.2 473.7,416.4 483.0,432.7 491.7,448.3 495.5,439.0 501.2,419.2"/>
<polyline fill="none" stroke="#ff8c1a" stroke-width="1.8" stroke-linejoin="round" points="3.2,456.8 7.7,449.6 13.5,457.7 20.7,467.6 27.0,472.1 35.9,481.1 44.0,487.9 48.2,467.1 53.0,463.1 66.5,477.9 71.0,462.8 84.5,477.1 88.9,452.3 93.4,438.0 98.3,425.0 102.4,432.9 107.5,429.0 111.8,429.9 116.6,408.4 121.1,386.6 125.4,385.4 129.9,392.1 134.2,403.4 138.7,413.4 142.9,423.5 147.9,414.7 152.5,402.7 157.5,412.2 161.7,415.9 163.8,422.7 170.5,435.2 175.0,441.5 179.6,424.7 184.3,429.0 188.8,417.2 193.4,408.9 197.6,398.1 202.1,407.6 211.4,427.2 216.4,416.4 220.9,418.2 225.2,410.2 229.5,399.4 234.0,408.9 238.5,418.9 243.2,403.9 247.8,412.7 252.3,391.3 256.5,395.1 261.1,397.6 265.8,407.6 270.3,408.1 283.6,434.7 288.4,413.9 292.9,422.7 297.4,398.1 301.7,408.1 310.5,427.2 315.5,432.7 324.7,446.5 328.5,424.7 330.0,424.7 337.5,440.2 345.0,454.0 360.6,471.1 365.1,441.5 378.9,461.6 388.2,472.1 392.2,470.3 397.0,459.0 405.7,469.8 410.2,467.3 414.8,472.3 419.8,468.3 424.0,458.3 428.5,463.3 433.3,458.3 437.8,463.3 442.3,444.0 451.1,457.3 455.4,448.3 460.4,454.0 464.7,446.5 473.7,460.3 483.0,469.8 487.5,470.8 491.7,469.1 501.2,478.6"/>
<polyline fill="none" stroke="#0f8487" stroke-width="1.9" stroke-linejoin="round" points="3.0,458.6 8.0,463.6 12.5,461.1 17.1,456.1 22.6,444.8 27.6,434.7 32.6,422.2 37.6,409.7 44.4,393.4 48.9,389.1 53.4,387.6 57.7,385.9 62.2,381.6 66.4,377.8 71.0,380.3 75.7,383.3 80.2,382.6 84.8,379.1 89.0,383.3 93.3,393.4 97.8,403.4 102.8,413.4 107.8,419.2 112.8,422.2 117.9,419.2 122.9,413.4 129.9,403.4 134.2,405.4 138.7,412.2 142.9,421.0 147.9,427.2 153.0,430.2 158.0,432.7 161.7,433.5 163.8,435.2 167.5,440.2 171.3,446.5 175.0,449.8 180.1,454.0 184.3,456.0 188.8,454.8 193.9,450.3 198.9,442.7 203.9,437.0 207.6,434.0 211.4,432.7 216.4,427.7 221.4,421.4 226.4,411.4 231.5,402.6 235.2,399.6 239.0,398.9 243.2,395.1 247.8,397.1 252.8,394.6 257.8,389.6 262.8,385.1 266.6,381.3 269.8,378.3 274.1,382.1 279.1,389.6 283.6,394.4 287.9,395.1 292.4,395.1 297.4,389.6 301.7,387.6 305.4,392.6 310.5,401.4 315.5,408.9 320.5,418.9 325.5,425.2 330.0,429.0 333.8,436.5 337.5,442.2 342.0,444.8 346.3,445.8 351.3,441.5 356.3,432.7 360.6,425.2 365.1,426.4 369.6,425.7 378.9,418.2 387.7,410.2 392.7,408.1 397.0,411.4 401.5,407.6 405.7,401.4 410.2,396.4 414.8,390.1 419.8,386.3 424.0,386.3 428.5,384.3 433.3,384.6 437.8,382.6 442.3,386.3 446.6,390.1 451.6,395.1 455.4,400.1 460.4,407.6 464.7,417.2 469.2,420.7 473.7,420.7 483.0,420.7 487.5,421.4 491.7,424.7 495.5,423.9 501.2,418.2"/>
</svg>
<div class="botw"></div><div class="rw"></div><div class="topb"></div><div class="topw"></div><div class="topd"></div>
<div class="lb"></div><div class="lw"></div><div class="ld"></div>
<div class="axv"></div>
<div class="tri"></div><div class="title">USDJPY.m,H1</div>
<div class="pl" style="top:18.9px">146.880</div>
<div class="tk" style="top:22.7px"></div>
<div class="pl" style="top:51.2px">146.620</div>
<div class="tk" style="top:55.0px"></div>
<div class="pl" style="top:83.0px">146.365</div>
<div class="tk" style="top:86.8px"></div>
<div class="pl" style="top:114.9px">146.110</div>
<div class="tk" style="top:118.7px"></div>
<div class="pl" style="top:146.9px">145.850</div>
<div class="tk" style="top:150.7px"></div>
<div class="pl" style="top:178.8px">145.595</div>
<div class="tk" style="top:182.6px"></div>
<div class="pl" style="top:210.7px">145.340</div>
<div class="tk" style="top:214.5px"></div>
<div class="pl" style="top:242.7px">145.080</div>
<div class="tk" style="top:246.5px"></div>
<div class="pl" style="top:274.6px">144.825</div>
<div class="tk" style="top:278.4px"></div>
<div class="pl" style="top:306.5px">144.570</div>
<div class="tk" style="top:310.3px"></div>
<div class="pl" style="top:338.2px">144.315</div>
<div class="tk" style="top:342.0px"></div>
<div class="fe">FE 61.8</div>
<div class="box" style="top:42.6px;">146.700</div>
<div class="box" style="top:73.5px;">146.444</div>
<div class="adx"><span style="letter-spacing:-0.05px">ADX(24) 23.3303 </span><span style="letter-spacing:0.13px">+DI:23.3845 -DI:10.8681</span></div>
<div class="il" style="top:361.4px">35</div>
<div class="il" style="top:380.6px">30</div>
<div class="il" style="top:488.6px">7</div>
<div class="dt" style="left:3.2px;">21 Aug 2023</div>
<div class="dtk" style="left:2.9px"></div>
<div class="dt" style="left:74.8px;letter-spacing:0.17px;">21 Aug 23:05</div>
<div class="dtk" style="left:74.9px"></div>
<div class="dt" style="left:147.3px;letter-spacing:0.17px;">22 Aug 15:00</div>
<div class="dtk" style="left:147.4px"></div>
<div class="dt" style="left:219.7px;letter-spacing:0.17px;">23 Aug 07:00</div>
<div class="dtk" style="left:219.8px"></div>
<div class="dt" style="left:292.1px;letter-spacing:0.17px;">23 Aug 23:05</div>
<div class="dtk" style="left:292.2px"></div>
<div class="dt" style="left:364.5px;letter-spacing:0.17px;">24 Aug 15:00</div>
<div class="dtk" style="left:364.6px"></div>
<div class="dt" style="left:436.9px;letter-spacing:0.17px;">25 Aug 07:00</div>
<div class="dtk" style="left:437.0px"></div>
</div></body></html>
